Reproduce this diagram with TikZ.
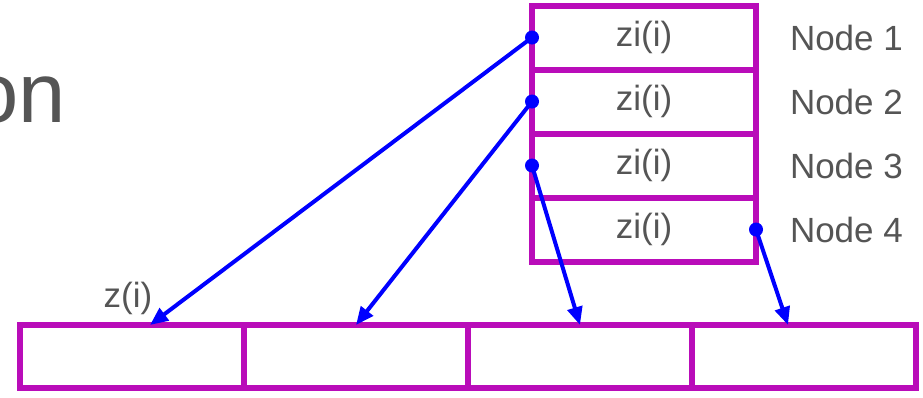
\documentclass[tikz,border=0pt]{standalone}
\usepackage{fontspec}
\setmainfont{Liberation Sans}
\usetikzlibrary{positioning,arrows.meta}
\definecolor{cellmag}{RGB}{185,12,185}
\definecolor{txtgray}{RGB}{85,85,85}
\definecolor{ptrblue}{RGB}{0,0,255}

\begin{document}
\begin{tikzpicture}[x=1pt, y=-1pt,
  cell/.style={draw=cellmag, line width=6pt, minimum width=224pt,
    minimum height=64pt, inner sep=0pt, outer sep=0pt, text=txtgray,
    font=\fontsize{35}{35}\selectfont},
  lbl/.style={text=txtgray, font=\fontsize{35}{35}\selectfont,
    inner sep=0pt, outer sep=0pt},
  ptr/.style={draw=ptrblue, line width=4pt,
    -{Triangle[length=18pt,width=15pt]}}]
  \useasboundingbox (0,0) rectangle (923,397);
  % --- cut-off title ---
  \node[lbl, font=\fontsize{85}{85}\selectfont, anchor=base east] (title) at (66,122) {on};
  % --- local stack: one zi(i) cell per node ---
  \node[cell] (n1) at (644,37.5) {zi(i)};
  \foreach \k/\p in {2/1,3/2,4/3}
    \node[cell, below=0pt of n\p] (n\k) {zi(i)};
  \foreach \k in {1,...,4}
    \node[lbl, right=34pt of n\k, anchor=west] (lab\k) {Node \k};
  % --- global array z(i), four blocks ---
  \node[cell, minimum height=63pt] (b1) at (132,356.5) {};
  \foreach \k/\p in {2/1,3/2,4/3}
    \node[cell, minimum height=63pt, right=0pt of b\p] (b\k) {};
  \node[lbl] (zlab) at (128,298) {z(i)};
  % --- pointer ends ---
  \coordinate (t1) at ([xshift=18pt]b1.north);
  \coordinate (t2) at (b2.north);
  \coordinate (t3) at (b3.north);
  \coordinate (t4) at ([xshift=-16pt]b4.north);
  % --- pointers ---
  \draw[ptr] (n1.west) -- (t1);
  \draw[ptr] (n2.west) -- (t2);
  \draw[ptr] (n3.west) -- (t3);
  \draw[ptr] (n4.east) -- (t4);
  \foreach \s in {n1.west,n2.west,n3.west,n4.east}
    \fill[ptrblue] (\s) circle (7pt);
\end{tikzpicture}
\end{document}
